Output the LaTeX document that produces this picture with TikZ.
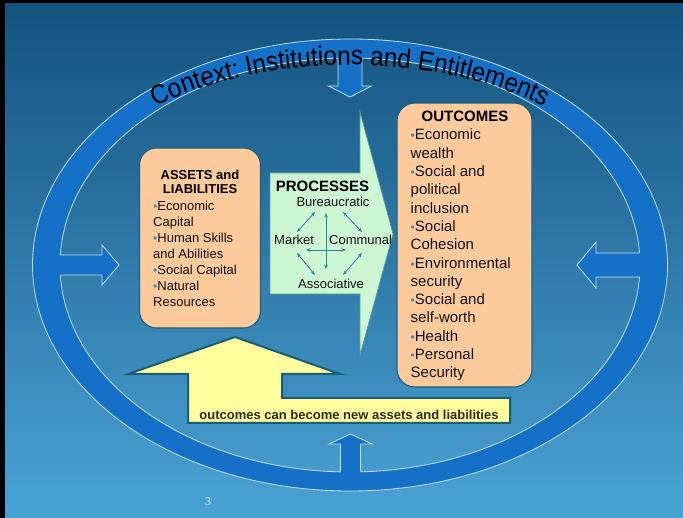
\documentclass[tikz,border=0pt]{standalone}
\usepackage{fontspec}
\setmainfont{Liberation Sans}
\newfontfamily\pagefont{Liberation Serif}
\newfontfamily\archfont[FakeStretch=0.9]{Liberation Sans}
\usetikzlibrary{arrows.meta,decorations.text}

\definecolor{bgtop}{HTML}{14527F}
\definecolor{bgbot}{HTML}{4AA3D5}
\definecolor{ringblue}{HTML}{1570C8}
\definecolor{ringline}{HTML}{C6E0F2}
\definecolor{boxfill}{HTML}{FDCA9C}
\definecolor{boxline}{HTML}{1F5F7C}
\definecolor{procfill}{HTML}{CDF7D3}
\definecolor{procline}{HTML}{5A9F92}
\definecolor{loopfill}{HTML}{FFFF9E}
\definecolor{loopline}{HTML}{1B5E74}
\definecolor{bulc}{HTML}{3A8CC4}
\definecolor{linkc}{HTML}{2B80A6}
\definecolor{pagec}{HTML}{DCEBF5}

\newcommand\bul{{\color{bulc}\fontsize{12}{12}\selectfont\textbullet}}

\tikzset{
  ring/.style={fill=ringblue},
  ringedge/.style={draw=ringline, line width=0.8pt},
  roundbox/.style={draw=boxline, fill=boxfill, line width=1.1pt, rounded corners=17pt, inner sep=0pt},
  heading/.style={font=\fontsize{13}{13}\selectfont\bfseries, text=black, inner sep=0pt, anchor=base},
  smalltxt/.style={font=\fontsize{13}{16}\selectfont, text=black!93, inner sep=0pt, anchor=base west},
  bigtxt/.style={font=\fontsize{15}{18}\selectfont, text=black!93, inner sep=0pt, anchor=base west},
  proclbl/.style={font=\fontsize{13}{13}\selectfont, text=black!93, inner sep=0pt},
  link/.style={draw=linkc, line width=0.8pt, {Stealth[length=4.5pt,width=3.6pt]}-{Stealth[length=4.5pt,width=3.6pt]}},
}

\begin{document}
\begin{tikzpicture}[x=1pt,y=-1pt]
\useasboundingbox (0,0) rectangle (683,518);

% backdrop with dark frame line on top and left
\fill[black] (0,0) rectangle (683,518);
\shade[top color=bgtop, bottom color=bgbot] (5,4) rectangle (683,518);

% the context ring
\fill[ring, even odd rule] (350,265) ellipse [x radius=317.5, y radius=226]
                           (350,265) ellipse [x radius=290, y radius=207];
\draw[ringedge] (350,265) ellipse [x radius=317.5, y radius=226];
\draw[ringedge] (350,265) ellipse [x radius=290, y radius=207];

% four arrows pointing inward from the ring
\fill[ring] (55,255) -- (102,255) -- (102,245) -- (119,265) -- (102,285) -- (102,275) -- (55,275) -- cycle;
\draw[ringedge] (60.4,255) -- (102,255) -- (102,245) -- (119,265) -- (102,285) -- (102,275) -- (60.4,275);

\fill[ring] (645,253) -- (596,253) -- (596,242) -- (577,265) -- (596,288) -- (596,277) -- (645,277) -- cycle;
\draw[ringedge] (639.6,253) -- (596,253) -- (596,242) -- (577,265) -- (596,288) -- (596,277) -- (639.6,277);

\fill[ring] (338,53) -- (338,86) -- (328.5,86) -- (350,97) -- (371.5,86) -- (362,86) -- (362,53) -- cycle;
\draw[ringedge] (338,58.5) -- (338,86) -- (328.5,86) -- (350,97) -- (371.5,86) -- (362,86) -- (362,58.5);

\fill[ring] (340.5,477) -- (340.5,444) -- (329,444) -- (350.5,434) -- (372,444) -- (360.5,444) -- (360.5,477) -- cycle;
\draw[ringedge] (340.5,471.6) -- (340.5,444) -- (329,444) -- (350.5,434) -- (372,444) -- (360.5,444) -- (360.5,471.6);

% arched title
\path[decorate, decoration={text along path, text align=center,
      text={|\archfont\fontsize{27}{27}\selectfont|Context: Institutions and Entitlements}}]
  (135.9,116.4) arc[start angle=228, end angle=312, x radius=320, y radius=200];

% feedback arrow from outcomes back to assets
\draw[draw=loopline, fill=loopfill, line width=2pt, line join=miter]
  (235,337) -- (340,374) -- (282,374) -- (282,398) -- (510,398) -- (510,423)
  -- (188,423) -- (188,374) -- (128,374) -- cycle;
\node[font=\fontsize{13}{13}\selectfont\bfseries, text=black!90!olive, inner sep=0pt, anchor=base]
  (loop) at (349,420) {outcomes can become new assets and liabilities};

% processes arrow
\draw[draw=procline, fill=procfill, line width=0.7pt]
  (270,173) -- (360,173) -- (360,112) -- (393,234) -- (360,355) -- (360,294) -- (270,294) -- cycle;

% assets box
\node[roundbox, minimum width=121pt, minimum height=180pt] (assets) at (200,238) {};
\node[heading] (ah1) at (200,179.5) {ASSETS and};
\node[heading] (ah2) at (200,194) {LIABILITIES};
\foreach [count=\i] \t in {\bul Economic, Capital, \bul Human Skills, and Abilities,
                           \bul Social Capital, \bul Natural, Resources}
  \node[smalltxt] (a\i) at (153,{211+16*(\i-1)}) {\t};

% outcomes box
\node[roundbox, rounded corners=18pt, minimum width=135pt, minimum height=284pt] (outcomes) at (464.5,245) {};
\node[heading, font=\fontsize{15}{15}\selectfont\bfseries] (oh) at (465,122) {OUTCOMES};
\foreach [count=\i] \t in {\bul Economic, wealth, \bul Social and, political, inclusion,
                           \bul Social, Cohesion, \bul Environmental, security,
                           \bul Social and, self-worth, \bul Health, \bul Personal, Security}
  \node[bigtxt] (o\i) at (410.5,{140+18.3*(\i-1)}) {\t};

% processes labels and the links between them
\node[heading, font=\fontsize{15}{15}\selectfont\bfseries] (ph) at (322.5,192) {PROCESSES};
\node[proclbl, anchor=base] (bur) at (333,207) {Bureaucratic};
\node[proclbl, anchor=base west] (mkt) at (274,245) {Market};
\node[proclbl, anchor=base west] (com) at (329,245) {Communal};
\node[proclbl, anchor=base] (ass) at (331,289) {Associative};

\coordinate (vt) at (326,213);  \coordinate (vb) at (326,269);
\coordinate (hl) at (306,250);  \coordinate (hr) at (346,250);
\coordinate (ula) at (315,212); \coordinate (ulb) at (297,232);
\coordinate (ura) at (343,212); \coordinate (urb) at (362,232);
\coordinate (lla) at (297,253); \coordinate (llb) at (315,275);
\coordinate (lra) at (362,253); \coordinate (lrb) at (343,275);
\draw[link] (vt) -- (vb);
\draw[link] (hl) -- (hr);
\draw[link] (ula) -- (ulb);
\draw[link] (ura) -- (urb);
\draw[link] (lla) -- (llb);
\draw[link] (lra) -- (lrb);

% slide number
\node[font=\pagefont\fontsize{12}{12}\selectfont, text=pagec, inner sep=0pt] (pg) at (208,502) {3};
\end{tikzpicture}
\end{document}
